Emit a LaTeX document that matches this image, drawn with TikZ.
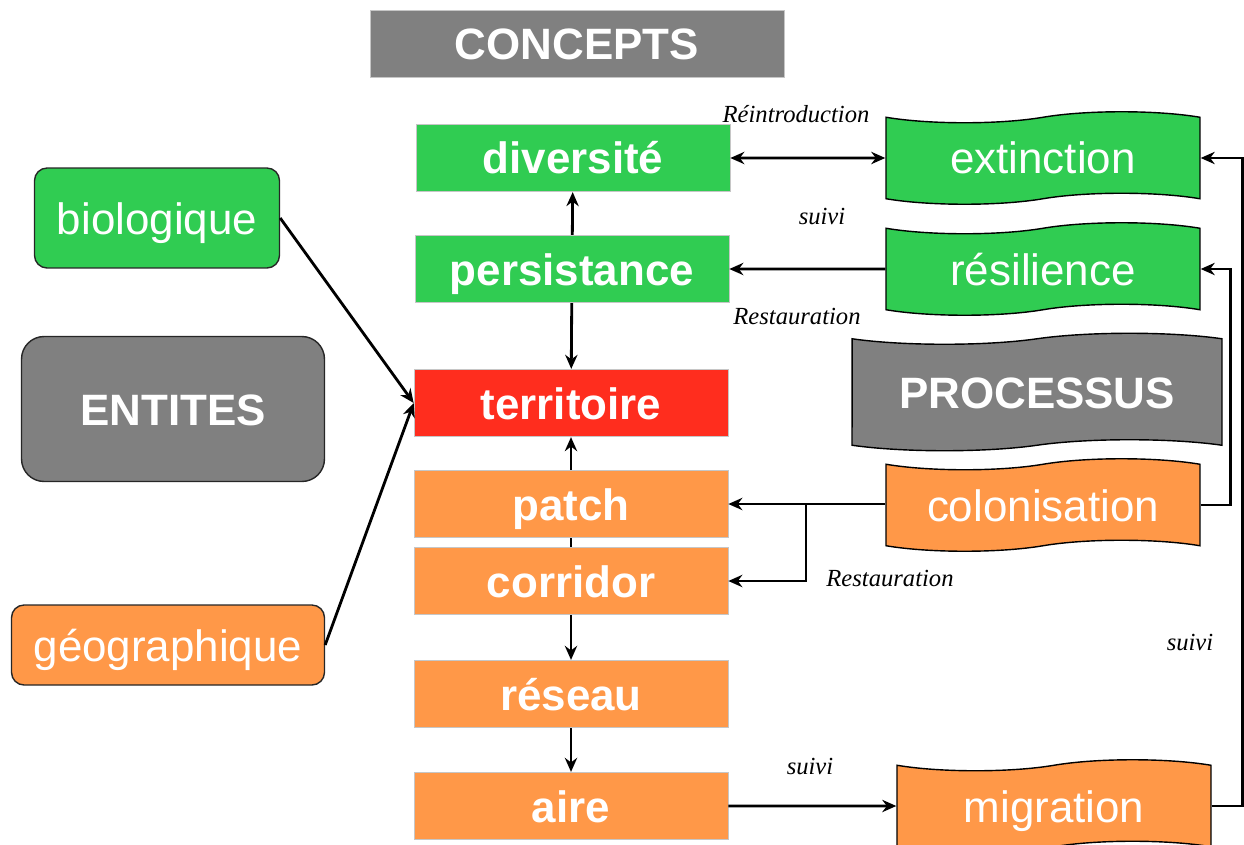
\documentclass[tikz,border=0pt]{standalone}
\usepackage{fontspec}
\setmainfont{Liberation Sans}
\newfontfamily\notefont{Liberation Serif}
\usetikzlibrary{shapes.symbols,arrows.meta}

\definecolor{vert}{RGB}{48,204,82}
\definecolor{orange}{RGB}{255,152,72}
\definecolor{rouge}{RGB}{255,45,30}
\definecolor{gris}{RGB}{128,128,128}

\tikzset{
  grand/.style={text=white,font=\fontsize{25}{30}\selectfont,text height=0.64cm,text depth=0pt},
  concept/.style={grand,rectangle,draw=gray!45,inner sep=0pt,
    minimum width=6.28cm,minimum height=1.35cm,font=\fontsize{25}{30}\selectfont\bfseries},
  entite/.style={grand,rectangle,rounded corners=0.25cm,draw=black!85,thick,inner sep=0pt},
  processus/.style={grand,tape,draw=black,thick,inner sep=0pt,
    minimum width=6.28cm,minimum height=1.85cm,tape bend height=0.22cm},
  note/.style={font=\notefont\itshape\fontsize{14}{16}\selectfont},
  pointe/.tip={Stealth[length=8pt,width=7pt]},
  fleche/.style={-pointe,line width=1.6pt},
}

\begin{document}
\begin{tikzpicture}[x=0.02cm,y=-0.02cm]

  \useasboundingbox (0,0) rectangle (1244,845);

  % titres
  \node[concept,fill=gris,minimum width=8.28cm] (concepts) at (577,44) {CONCEPTS};
  \node[entite,fill=gris,minimum width=6.06cm,minimum height=2.9cm,
        rounded corners=0.45cm,font=\fontsize{25}{30}\selectfont\bfseries] (entites) at (173,409) {ENTITES};
  \node[processus,fill=gris,minimum width=7.4cm,minimum height=2.35cm,
        font=\fontsize{25}{30}\selectfont\bfseries] (processus) at (1037,392) {PROCESSUS};

  % concepts
  \begin{scope}[every node/.style={concept}]
    \node[fill=vert]   (diversite)   at (573,158) {diversité};
    \node[fill=vert]   (persistance) at (572,269) {persistance};
    \node[fill=rouge]  (territoire)  at (571,403) {territoire};
    \node[fill=orange] (patch)       at (571,504) {patch};
    \node[fill=orange] (corridor)    at (571,581) {corridor};
    \node[fill=orange] (reseau)      at (571,694) {réseau};
    \node[fill=orange] (aire)        at (571,806) {aire};
  \end{scope}

  % entites
  \node[entite,fill=vert,minimum width=4.9cm,minimum height=2cm] (biologique) at (157,218) {biologique};
  \node[entite,fill=orange,minimum width=6.26cm,minimum height=1.6cm] (geographique) at (168,645) {géographique};

  % processus
  \begin{scope}[every node/.style={processus}]
    \node[fill=vert]   (extinction)   at (1043,158) {extinction};
    \node[fill=vert]   (resilience)   at (1043,269) {résilience};
    \node[fill=orange] (colonisation) at (1043,505) {colonisation};
    \node[fill=orange] (migration)    at (1054,806) {migration};
  \end{scope}

  % etiquettes
  \begin{scope}[every node/.style={note}]
    \node (reintro)  at (796,114) {Réintroduction};
    \node (suivi1)   at (822,216) {suivi};
    \node (restau1)  at (797,316) {Restauration};
    \node (restau2)  at (890,578) {Restauration};
    \node (suivi2)   at (1190,642) {suivi};
    \node (suivi3)   at (810,766) {suivi};
  \end{scope}

  \coordinate (branche) at (806,504);

  \begin{scope}[every path/.style={draw,fleche}]
    \path (persistance) -- (diversite);
    \path (persistance) -- (territoire);
    \path (patch) -- (territoire);
    \path[-] (patch) -- (corridor);
    \path (corridor) -- (reseau);
    \path (reseau) -- (aire);
    \path (biologique.east) -- (territoire.west);
    \path (geographique.east) -- (territoire.west);
    \path[pointe-pointe] (diversite) -- (extinction);
    \path (resilience) -- (persistance);
    \path (colonisation.west |- branche) -- (patch.east |- branche);
    \path (branche) |- (corridor.east);
    \path (aire) -- (migration);
    \path (colonisation.east) -- ++(30,0) |- (resilience.east);
    \path (migration.east) -- ++(31,0) |- (extinction.east);
  \end{scope}

\end{tikzpicture}
\end{document}
